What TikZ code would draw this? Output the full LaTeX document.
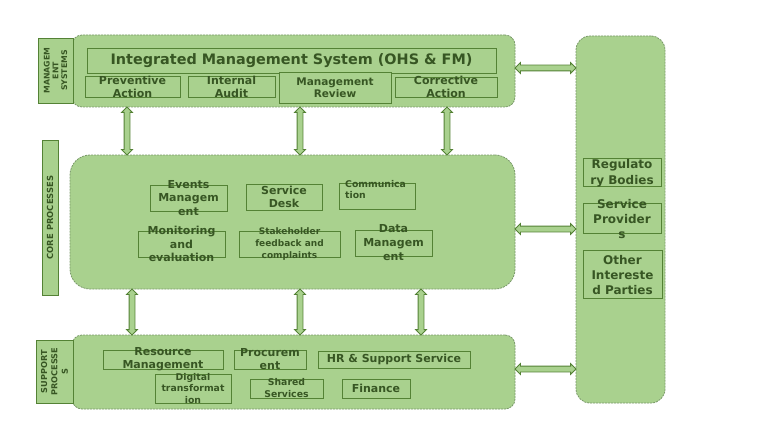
\documentclass[tikz,border=0pt]{standalone}
\usepackage{fontspec}
\setmainfont{DejaVu Sans}
\usetikzlibrary{shapes.arrows}
\definecolor{gfill}{HTML}{A9D18E}
\definecolor{gline}{HTML}{548235}
\definecolor{gtext}{HTML}{375623}
\definecolor{gdash}{HTML}{7A9A6A}
\begin{document}
\begin{tikzpicture}[x=1pt,y=-1pt,
  container/.style={draw=gdash, dash pattern=on 2pt off 1pt, fill=gfill, rounded corners=#1, line width=0.8pt, inner sep=0pt},
  sidebox/.style={draw=gline, fill=gfill, line width=0.9pt, inner sep=0pt},
  inbox/.style={draw=gline, line width=0.9pt, inner sep=0pt},
  txt/.style n args={2}{text=gtext, font=\bfseries\fontsize{#1}{#2}\selectfont, align=center, inner sep=0pt},
  dbl/.style={double arrow, draw=gline, fill=gfill, line width=0.8pt, inner sep=2.5pt, minimum width=0pt, double arrow head extend=2.5pt, double arrow tip angle=90},
]
\fill[white] (0,0) rectangle (768,433);
\useasboundingbox (0,0) rectangle (768,433);

% containers
\node[container=10pt, minimum width=443pt, minimum height=72pt] (top) at (293.5,71) {};
\node[container=20pt, minimum width=445pt, minimum height=134pt] (core) at (292.5,222) {};
\node[container=10pt, minimum width=443pt, minimum height=74pt] (sup) at (293.5,372) {};
\node[container=14pt, minimum width=89pt, minimum height=367pt] (ext) at (620.5,219.5) {};

% side labels
\node[sidebox, minimum width=35pt, minimum height=65pt] (ms) at (55.5,70.5) {};
\node[txt={7.8}{8.8}, rotate=90] (mst) at (ms.center) {MANAGEM\\ENT\\SYSTEMS};
\node[sidebox, minimum width=16pt, minimum height=155pt] (cp) at (50,217.5) {};
\node[txt={8.4}{9}, rotate=90] (cpt) at (cp.center) {CORE PROCESSES};
\node[sidebox, minimum width=37pt, minimum height=63pt] (sp) at (54.5,371.5) {};
\node[txt={8.2}{10.3}, rotate=90] (spt) at (sp.center) {SUPPORT\\PROCESSE\\S};

% top row
\node[inbox, minimum width=409pt, minimum height=25pt] (title) at (291.5,60.5) {};
\node[txt={14.4}{16}] (titlet) at (title.center) {Integrated Management System (OHS \& FM)};
\node[inbox, minimum width=95pt, minimum height=21pt] (pa) at (132.5,86.5) {};
\node[txt={11}{12.8}] (pat) at (pa.center) {Preventive\\Action};
\node[inbox, minimum width=87pt, minimum height=21pt] (ia) at (231.5,86.5) {};
\node[txt={11}{12.8}] (iat) at (ia.center) {Internal\\Audit};
\node[inbox, fill=gfill, minimum width=112pt, minimum height=31pt] (mr) at (335,87.5) {};
\node[txt={10.5}{12.5}] (mrt) at (mr.center) {Management\\Review};
\node[inbox, minimum width=102pt, minimum height=20pt] (ca) at (446,87) {};
\node[txt={11}{12.8}] (cat) at (ca.center) {Corrective\\Action};

% core row
\node[inbox, minimum width=77pt, minimum height=26pt] (em) at (188.5,198) {};
\node[txt={11}{13.3}] (emt) at (em.center) {Events\\Managem\\ent};
\node[inbox, minimum width=76pt, minimum height=26pt] (sd) at (284,197) {};
\node[txt={11}{13.5}] (sdt) at (sd.center) {Service\\Desk};
\node[inbox, minimum width=76pt, minimum height=26pt] (cm) at (377,196) {};
\node[txt={9.3}{11}, align=left, anchor=north west] (cmt) at (345,180) {Communica\\tion};
\node[inbox, minimum width=87pt, minimum height=26pt] (me) at (181.5,244) {};
\node[txt={11}{13.5}] (met) at (me.center) {Monitoring\\and\\evaluation};
\node[inbox, minimum width=101pt, minimum height=26pt] (sf) at (289.5,244) {};
\node[txt={9}{12}] (sft) at (sf.center) {Stakeholder\\feedback and\\complaints};
\node[inbox, minimum width=77pt, minimum height=26pt] (dm) at (393.5,243) {};
\node[txt={11}{14}] (dmt) at (dm.center) {Data\\Managem\\ent};

% support row
\node[inbox, minimum width=120pt, minimum height=19pt] (rm) at (163,359.5) {};
\node[txt={11}{13}] (rmt) at (rm.center) {Resource\\Management};
\node[inbox, minimum width=72pt, minimum height=19pt] (pr) at (270,359.5) {};
\node[txt={11}{13}] (prt) at (pr.center) {Procurem\\ent};
\node[inbox, minimum width=152pt, minimum height=17pt] (hr) at (394,359.5) {};
\node[txt={11}{13}] (hrt) at (hr.center) {HR \& Support Service};
\node[inbox, minimum width=76pt, minimum height=29pt] (dt) at (193,388.5) {};
\node[txt={9.3}{11.3}] (dtt) at (dt.center) {Digital\\transformat\\ion};
\node[inbox, minimum width=73pt, minimum height=19pt] (ss) at (286.5,388.5) {};
\node[txt={9.3}{12}] (sst) at (ss.center) {Shared\\Services};
\node[inbox, minimum width=68pt, minimum height=19pt] (fi) at (376,388.5) {};
\node[txt={11}{13}] (fit) at (fi.center) {Finance};

% external
\node[inbox, minimum width=78pt, minimum height=28pt] (rb) at (622,172) {};
\node[txt={12}{15.5}] (rbt) at (622,173) {Regulato\\ry Bodies};
\node[inbox, minimum width=78pt, minimum height=30pt] (spv) at (622,218) {};
\node[txt={12}{15}] (spvt) at (622,219) {Service\\Provider\\s};
\node[inbox, minimum width=79pt, minimum height=48pt] (oi) at (622.5,274) {};
\node[txt={12}{14.7}] (oit) at (622.5,275) {Other\\Intereste\\d Parties};

% connector positions
\coordinate (v1) at (127,0);
\coordinate (v2) at (300,0);
\coordinate (v3) at (447,0);
\coordinate (w1) at (132,0);
\coordinate (w2) at (300,0);
\coordinate (w3) at (421,0);
\coordinate (h1) at (0,68);
\coordinate (h2) at (0,229);
\coordinate (h3) at (0,369);

\path (top.south -| v1) -- (core.north -| v1) node[midway, dbl, rotate=90, minimum height=48pt] (a1) {};
\path (top.south -| v2) -- (core.north -| v2) node[midway, dbl, rotate=90, minimum height=48pt] (a2) {};
\path (top.south -| v3) -- (core.north -| v3) node[midway, dbl, rotate=90, minimum height=48pt] (a3) {};
\path (core.south -| w1) -- (sup.north -| w1) node[midway, dbl, rotate=90, minimum height=46pt] (b1) {};
\path (core.south -| w2) -- (sup.north -| w2) node[midway, dbl, rotate=90, minimum height=46pt] (b2) {};
\path (core.south -| w3) -- (sup.north -| w3) node[midway, dbl, rotate=90, minimum height=46pt] (b3) {};
\path (top.east |- h1) -- (ext.west |- h1) node[midway, dbl, minimum height=61pt] (c1) {};
\path (core.east |- h2) -- (ext.west |- h2) node[midway, dbl, minimum height=61pt] (c2) {};
\path (sup.east |- h3) -- (ext.west |- h3) node[midway, dbl, minimum height=61pt] (c3) {};
\end{tikzpicture}
\end{document}
